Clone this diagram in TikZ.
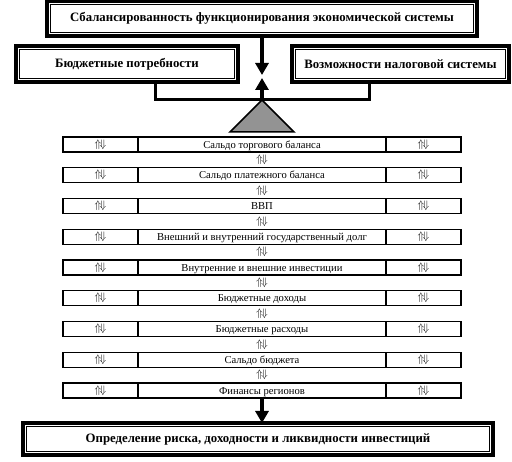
\documentclass[tikz,border=0pt]{standalone}
\usepackage{fontspec}
\setmainfont{Liberation Serif}
\usetikzlibrary{arrows.meta}
\newcommand\rowsep{30.75}
\newcommand\sidewidth{75pt}
\newcommand\midwidth{248pt}
\newcommand\updown{\fontsize{11}{12}\selectfont$\Uparrow\!\Downarrow$}

\tikzset{
  frame/.style={draw,line width=4pt,outer sep=0pt,inner sep=0pt,
    font=\bfseries\fontsize{12.8}{14}\selectfont,
    path picture={\draw[line width=1pt]
      ([shift={(3.5pt,-3.5pt)}]path picture bounding box.north west) rectangle
      ([shift={(-3.5pt,3.5pt)}]path picture bounding box.south east);}},
  cell/.style={draw,line width=1.3pt,outer sep=0pt,inner sep=0pt,minimum height=15pt,
    font=\fontsize{10.6}{12}\selectfont},
  sidecell/.style={cell,minimum width=\sidewidth},
  midcell/.style={cell,minimum width=\midwidth,text height=8.5pt,text depth=1pt},
  link/.style={line width=3pt},
  bigarrow/.style={line width=3.5pt,-{Triangle[width=13pt,length=12pt]}}
}

\begin{document}
\begin{tikzpicture}[x=1pt,y=1pt]
    \useasboundingbox (0,0) rectangle (512,-462);

    \node[frame,minimum width=430pt,minimum height=35pt] (balance) at (262,-18.5) {Сбалансированность функционирования экономической системы};
    \node[frame,minimum width=222pt,minimum height=36pt] (needs) at (127,-64) {Бюджетные потребности};
    \node[frame,minimum width=217pt,minimum height=36pt] (taxes) at (400.5,-64) {Возможности налоговой системы};

    \coordinate (meettop) at (262,-75);
    \coordinate (meetlow) at (262,-78);
    \coordinate (pivot) at (262,-100);
    \coordinate (beamleft) at (155,-100);
    \coordinate (beamright) at (369,-100);

    \draw[bigarrow] (balance.south) -- (meettop);
    \draw[bigarrow] (pivot) -- (meetlow);
    \draw[link] (needs.south -| beamleft) -- (beamleft) -- (beamright) -- (taxes.south -| beamright);
    \draw[line width=1.5pt,fill=gray!85] (pivot) -- ++(-32,-32) -- ++(64,0) -- cycle;

    \node[sidecell] (r1l) at (100.5,-144.5) {\updown};
    \node[midcell] (r1m) at (262,-144.5) {Сальдо торгового баланса};
    \node[sidecell] (r1r) at (423.5,-144.5) {\updown};
    \node (a1) at (262,-160) {\updown};

    \node[sidecell] (r2l) at (100.5,-144.5-1*\rowsep) {\updown};
    \node[midcell] (r2m) at (262,-144.5-1*\rowsep) {Сальдо платежного баланса};
    \node[sidecell] (r2r) at (423.5,-144.5-1*\rowsep) {\updown};
    \node (a2) at (262,-160-1*\rowsep) {\updown};

    \node[sidecell] (r3l) at (100.5,-144.5-2*\rowsep) {\updown};
    \node[midcell] (r3m) at (262,-144.5-2*\rowsep) {ВВП};
    \node[sidecell] (r3r) at (423.5,-144.5-2*\rowsep) {\updown};
    \node (a3) at (262,-160-2*\rowsep) {\updown};

    \node[sidecell] (r4l) at (100.5,-144.5-3*\rowsep) {\updown};
    \node[midcell] (r4m) at (262,-144.5-3*\rowsep) {Внешний и внутренний государственный долг};
    \node[sidecell] (r4r) at (423.5,-144.5-3*\rowsep) {\updown};
    \node (a4) at (262,-160-3*\rowsep) {\updown};

    \node[sidecell] (r5l) at (100.5,-144.5-4*\rowsep) {\updown};
    \node[midcell] (r5m) at (262,-144.5-4*\rowsep) {Внутренние и внешние инвестиции};
    \node[sidecell] (r5r) at (423.5,-144.5-4*\rowsep) {\updown};
    \node (a5) at (262,-160-4*\rowsep) {\updown};

    \node[sidecell] (r6l) at (100.5,-144.5-5*\rowsep) {\updown};
    \node[midcell] (r6m) at (262,-144.5-5*\rowsep) {Бюджетные доходы};
    \node[sidecell] (r6r) at (423.5,-144.5-5*\rowsep) {\updown};
    \node (a6) at (262,-160-5*\rowsep) {\updown};

    \node[sidecell] (r7l) at (100.5,-144.5-6*\rowsep) {\updown};
    \node[midcell] (r7m) at (262,-144.5-6*\rowsep) {Бюджетные расходы};
    \node[sidecell] (r7r) at (423.5,-144.5-6*\rowsep) {\updown};
    \node (a7) at (262,-160-6*\rowsep) {\updown};

    \node[sidecell] (r8l) at (100.5,-144.5-7*\rowsep) {\updown};
    \node[midcell] (r8m) at (262,-144.5-7*\rowsep) {Сальдо бюджета};
    \node[sidecell] (r8r) at (423.5,-144.5-7*\rowsep) {\updown};
    \node (a8) at (262,-160-7*\rowsep) {\updown};

    \node[sidecell] (r9l) at (100.5,-144.5-8*\rowsep) {\updown};
    \node[midcell] (r9m) at (262,-144.5-8*\rowsep) {Финансы регионов};
    \node[sidecell] (r9r) at (423.5,-144.5-8*\rowsep) {\updown};

    \node[frame,minimum width=470pt,minimum height=32pt] (risk) at (258,-439) {Определение риска, доходности и ликвидности инвестиций};
    \draw[bigarrow] (r9m.south) -- (r9m.south |- risk.north);
  \end{tikzpicture}
\end{document}
